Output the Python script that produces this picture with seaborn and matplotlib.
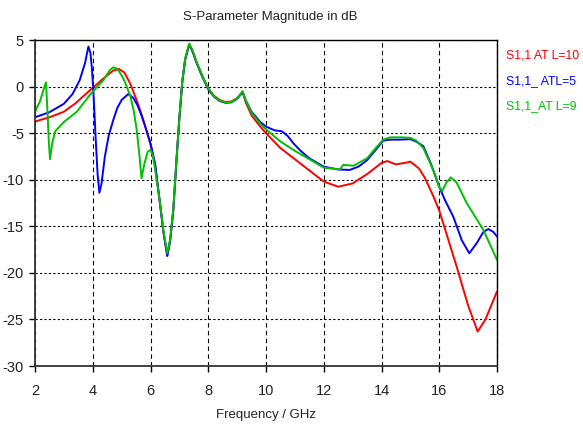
import matplotlib
matplotlib.use("Agg")
import matplotlib.pyplot as plt
import seaborn as sns
import pandas as pd

# ---- data (frequency GHz, magnitude dB) ----
series_names = ["S1,1 AT L=10", "S1,1_ ATL=5", "S1,1_AT L=9"]
series_colors = ["#ff0000", "#0000ff", "#00c000"]

red_points = [(2.0,-3.75),(2.5,-3.3),(3.0,-2.7),(3.4,-1.8),(3.9,-0.4),(4.4,0.95),(4.7,1.7),
              (4.9,1.9),(5.1,1.5),(5.3,0.3),(5.5,-1.3),(5.65,-2.6),(5.8,-4.1),(6.0,-6.2),
              (6.16,-8.4),(6.33,-12.6),(6.45,-15.6),(6.58,-18.1),(6.68,-16.5),(6.79,-13.2),
              (6.9,-7.9),(7.0,-3.4),(7.1,0.5),(7.2,2.9),(7.34,4.57),(7.45,3.9),(7.6,2.6),
              (7.8,1.1),(8.0,-0.2),(8.2,-1.0),(8.4,-1.45),(8.6,-1.65),(8.8,-1.6),(9.0,-1.25),
              (9.1,-0.9),(9.19,-0.55),(9.3,-1.7),(9.5,-3.1),(9.8,-4.3),(10.0,-5.0),(10.5,-6.6),
              (11.0,-7.8),(11.5,-9.0),(12.0,-10.2),(12.5,-10.75),(13.0,-10.4),(13.5,-9.4),
              (14.0,-8.2),(14.2,-8.0),(14.5,-8.35),(14.8,-8.2),(15.0,-8.06),(15.3,-8.8),
              (15.5,-9.8),(15.8,-11.8),(16.0,-13.3),(16.3,-16.3),(16.6,-19.3),(17.0,-23.5),
              (17.33,-26.3),(17.6,-25.0),(18.0,-22.0)]

blue_points = [(2.0,-3.3),(2.5,-2.75),(3.0,-1.85),(3.3,-0.8),(3.55,0.7),(3.73,2.5),(3.85,4.3),
               (3.92,3.6),(3.97,2.0),(4.03,-1.0),(4.1,-5.5),(4.17,-9.5),(4.23,-11.4),(4.3,-10.5),
               (4.42,-7.5),(4.55,-5.3),(4.71,-3.6),(4.85,-2.3),(5.0,-1.44),(5.23,-0.8),(5.4,-1.2),
               (5.55,-2.0),(5.7,-3.2),(5.85,-4.6),(6.0,-6.1),(6.16,-8.3),(6.33,-12.6),(6.45,-15.7),
               (6.58,-18.2),(6.68,-16.6),(6.79,-13.3),(6.9,-7.9),(7.0,-3.4),(7.1,0.5),(7.2,2.9),
               (7.34,4.5),(7.45,3.8),(7.6,2.5),(7.8,1.0),(8.0,-0.3),(8.2,-1.1),(8.4,-1.55),
               (8.6,-1.75),(8.8,-1.7),(9.0,-1.3),(9.1,-0.95),(9.19,-0.6),(9.3,-1.5),(9.5,-2.7),
               (9.8,-3.8),(10.0,-4.3),(10.3,-4.7),(10.55,-4.8),(10.75,-5.3),(10.95,-6.1),
               (11.2,-6.9),(11.5,-7.7),(12.0,-8.6),(12.5,-8.9),(12.9,-8.95),(13.2,-8.6),
               (13.5,-7.9),(13.8,-6.8),(14.06,-5.8),(14.3,-5.7),(14.6,-5.7),(15.0,-5.65),
               (15.2,-5.9),(15.45,-6.4),(15.7,-8.2),(16.0,-10.75),(16.2,-12.2),(16.49,-14.0),
               (16.78,-16.5),(17.04,-17.9),(17.3,-16.8),(17.53,-15.6),(17.7,-15.3),(17.87,-15.6),
               (18.0,-16.1)]

green_points = [(2.0,-2.7),(2.17,-1.6),(2.29,-0.4),(2.38,0.45),(2.43,-2.5),(2.48,-6.0),(2.52,-7.8),
                (2.6,-6.0),(2.7,-4.8),(3.0,-3.8),(3.45,-2.7),(3.9,-0.9),(4.37,0.7),(4.6,1.8),
                (4.72,2.07),(4.85,1.9),(5.0,1.2),(5.1,0.6),(5.2,-0.2),(5.3,-1.0),(5.42,-2.6),
                (5.52,-4.6),(5.62,-7.5),(5.69,-9.85),(5.78,-8.4),(5.9,-7.0),(6.0,-6.8),(6.08,-7.4),
                (6.16,-8.9),(6.33,-12.5),(6.45,-15.5),(6.58,-17.9),(6.68,-16.4),(6.79,-13.1),
                (6.9,-7.8),(7.0,-3.3),(7.1,0.6),(7.2,3.0),(7.34,4.6),(7.45,3.9),(7.6,2.6),(7.8,1.1),
                (8.0,-0.2),(8.2,-1.05),(8.4,-1.5),(8.6,-1.7),(8.8,-1.65),(9.0,-1.3),(9.1,-0.9),
                (9.19,-0.5),(9.3,-1.5),(9.5,-2.8),(9.8,-4.0),(10.0,-4.6),(10.5,-5.9),(11.0,-6.9),
                (11.5,-7.8),(12.0,-8.7),(12.56,-8.9),(12.68,-8.4),(12.85,-8.45),(13.03,-8.5),
                (13.5,-7.7),(13.8,-6.6),(14.06,-5.7),(14.3,-5.45),(14.7,-5.45),(15.0,-5.5),
                (15.2,-5.8),(15.45,-6.6),(15.8,-9.0),(16.0,-10.8),(16.1,-11.2),(16.25,-10.3),
                (16.4,-9.75),(16.6,-10.3),(16.95,-12.5),(17.53,-15.4),(18.0,-18.6)]

x_ticks = [2, 4, 6, 8, 10, 12, 14, 16, 18]
y_ticks = [5, 0, -5, -10, -15, -20, -25, -30]
title_text = "S-Parameter Magnitude in dB"
xlabel_text = "Frequency / GHz"

# ---- build long table ----
frames = []
for name, pts in zip(series_names, [red_points, blue_points, green_points]):
    d = pd.DataFrame(pts, columns=["freq", "db"])
    d["series"] = name
    frames.append(d)
df = pd.concat(frames, ignore_index=True)

sns.set_style("white")
plt.rcParams["font.family"] = ["Liberation Sans", "DejaVu Sans"]

fig = plt.figure(figsize=(5.83, 4.25), dpi=100)
ax = fig.add_axes([35/583, 1-366/425, (497-35)/583, (366-40)/425])

sns.lineplot(data=df, x="freq", y="db", hue="series", hue_order=series_names,
             palette=dict(zip(series_names, series_colors)), estimator=None, sort=False,
             linewidth=1.4, legend=False, ax=ax)

ax.set_xlim(2, 18)
ax.set_ylim(-30, 5)
ax.set_xticks(x_ticks)
ax.set_yticks(y_ticks)
ax.set_xticklabels([str(t) for t in x_ticks])
ax.set_yticklabels([str(t) for t in y_ticks])
ax.tick_params(axis="both", direction="out", length=4, width=1, color="black",
               labelsize=10.5, labelcolor="#222222", left=True, bottom=True)
ax.tick_params(axis="x", pad=9)
ax.tick_params(axis="y", pad=4)

ax.xaxis.grid(True, color="black", linewidth=0.8, linestyle=(0, (4, 3)))
ax.yaxis.grid(True, color="black", linewidth=0.8, linestyle=(0, (2, 2)))
ax.set_axisbelow(True)

for side in ["left", "bottom"]:
    ax.spines[side].set_color("#333333")
    ax.spines[side].set_linewidth(1.3)
for side in ["top", "right"]:
    ax.spines[side].set_color("black")
    ax.spines[side].set_linewidth(1.0)

ax.set_xlabel(xlabel_text, fontsize=9.5, color="#222222", labelpad=8)
ax.set_ylabel("")
fig.text(270/583, 1-17/425, title_text, ha="center", va="center", fontsize=9.5, color="#222222")

legend_y = [56, 81, 106]
for name, col, yy in zip(series_names, series_colors, legend_y):
    fig.text(506/583, 1-yy/425, name, ha="left", va="center", fontsize=8.8, color=col)

fig.savefig("out.png", dpi=100)
